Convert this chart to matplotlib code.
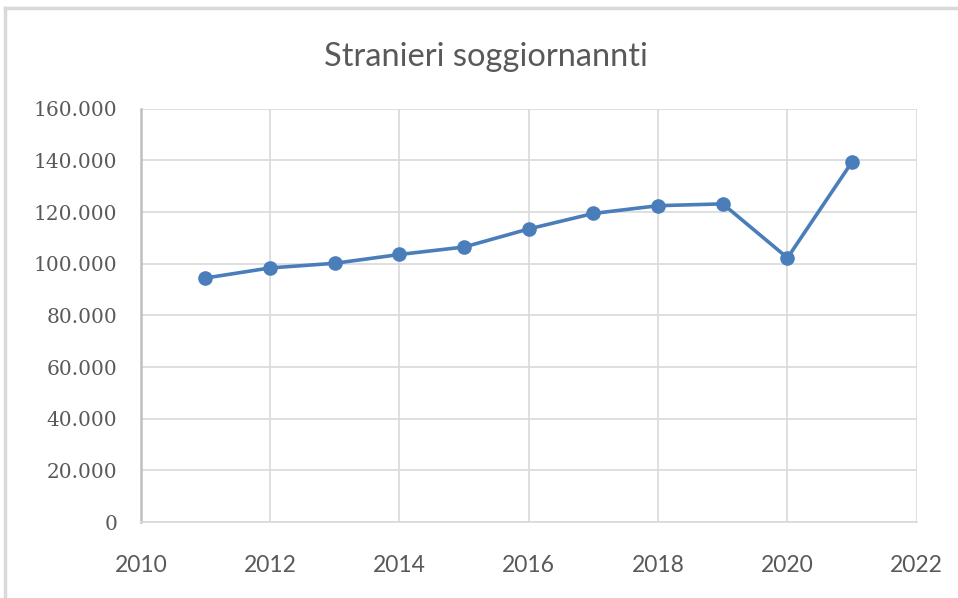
import matplotlib.pyplot as plt
from matplotlib.lines import Line2D
from matplotlib.ticker import FuncFormatter

years = [2011, 2012, 2013, 2014, 2015, 2016, 2017, 2018, 2019, 2020, 2021]
stranieri = [94500, 98400, 100200, 103600, 106500, 113500, 119500, 122500, 123200, 102300, 139500]

x_ticks = [2010, 2012, 2014, 2016, 2018, 2020, 2022]
y_ticks = [0, 20000, 40000, 60000, 80000, 100000, 120000, 140000, 160000]

fig = plt.figure(figsize=(9.58, 5.98), dpi=100)
ax = fig.add_axes([0.147, 0.127, 0.81, 0.691])

ax.plot(years, stranieri, color='#4a7ebb', linewidth=2.6, marker='o',
        markersize=9.5, zorder=3)

ax.set_xlim(2010, 2022)
ax.set_ylim(0, 160000)
ax.set_xticks(x_ticks)
ax.set_yticks(y_ticks)
ax.yaxis.set_major_formatter(FuncFormatter(lambda v, p: f'{int(v):,}'.replace(',', '.')))

ax.grid(True, color='#d9d9d9', linewidth=1.2)
ax.set_axisbelow(True)
for s in ['top', 'right']:
    ax.spines[s].set_visible(False)
ax.spines['left'].set_color('#bfbfbf')
ax.spines['left'].set_linewidth(1.8)
ax.spines['bottom'].set_color('#d9d9d9')
ax.spines['bottom'].set_linewidth(1.2)

ax.tick_params(length=0)
ax.tick_params(axis='y', pad=17, labelsize=14.5, labelcolor='#595959')
ax.tick_params(axis='x', pad=24, labelsize=16.5, labelcolor='#595959')
for lab in ax.get_yticklabels():
    lab.set_family('DejaVu Serif')
for lab in ax.get_xticklabels():
    lab.set_family(['Lato', 'DejaVu Sans'])

fig.text(0.507, 0.905, 'Stranieri soggiornannti', ha='center', va='center',
         fontsize=23.5, color='#595959', family=['Lato', 'DejaVu Sans'])

# chart area border (left and top edges visible)
fig.add_artist(Line2D([0.005, 0.005], [0, 0.987], transform=fig.transFigure,
                      color='#d9d9d9', linewidth=2.5))
fig.add_artist(Line2D([0.005, 1], [0.987, 0.987], transform=fig.transFigure,
                      color='#d9d9d9', linewidth=2.5))

fig.savefig('out.png', dpi=100)
